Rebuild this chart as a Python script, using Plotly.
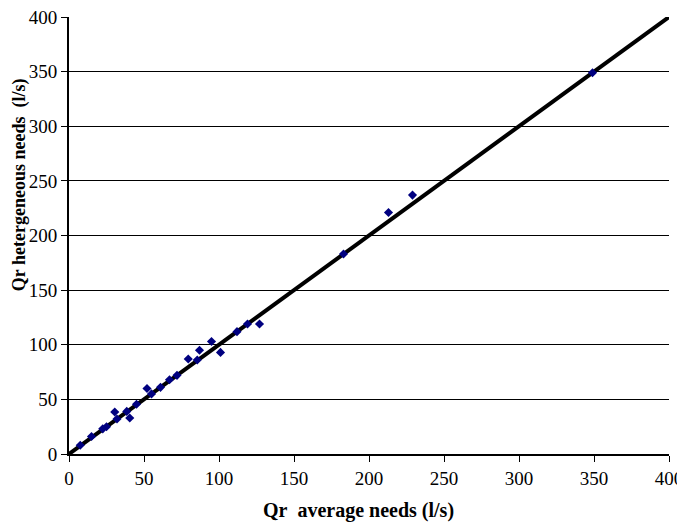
import plotly.graph_objects as go

# measured points (l/s)
avg_needs = [7.5, 15, 22.5, 25, 30.5, 32, 38.5, 40.5, 45, 52, 55, 61, 67, 72,
             79.5, 85.5, 87, 95, 101, 112, 119, 127, 183, 213, 229, 349]
het_needs = [8, 16, 23, 25, 38.5, 32, 39, 33, 45.5, 60, 55, 61, 68, 72,
             87, 86, 95, 103, 93, 112, 119, 119, 183, 221, 237, 349]

line_x = [0, 400]
line_y = [0, 400]

tick_vals = [0, 50, 100, 150, 200, 250, 300, 350, 400]

x_title = "<b>Qr&nbsp; average needs (l/s)</b>"
y_title = "<b>Qr hetergeneous needs&nbsp; (l/s)</b>"

font_family = "Liberation Serif"

fig = go.Figure()

fig.add_trace(go.Scatter(x=line_x, y=line_y, mode="lines",
                         line=dict(color="black", width=4),
                         showlegend=False, hoverinfo="skip", cliponaxis=False))

fig.add_trace(go.Scatter(x=avg_needs, y=het_needs, mode="markers",
                         marker=dict(symbol="diamond", color="#000080", size=7),
                         showlegend=False))

# page body adds ~8px offset, so the figure is a bit smaller than the window
fig.update_layout(
    width=677, height=514,
    margin=dict(l=61, r=16, t=9, b=68),
    plot_bgcolor="white",
    paper_bgcolor="white",
    font=dict(family=font_family, size=19, color="black"),
    xaxis=dict(
        range=[0, 400], tickvals=tick_vals,
        showgrid=False, zeroline=False, automargin=False,
        ticklabeloverflow="allow",
        showline=True, linecolor="black", linewidth=2,
        ticks="outside", ticklen=6, tickcolor="black", tickwidth=1,
    ),
    yaxis=dict(
        range=[0, 400], tickvals=tick_vals,
        showgrid=True, gridcolor="black", gridwidth=1,
        zeroline=False, automargin=False,
        ticklabeloverflow="allow",
        showline=True, linecolor="black", linewidth=2,
        ticks="outside", ticklen=6, tickcolor="black", tickwidth=1,
    ),
)

fig.add_annotation(text=x_title, xref="paper", yref="paper", x=0.483, y=0,
                   yanchor="middle", yshift=-56, showarrow=False,
                   font=dict(size=20))
fig.add_annotation(text=y_title, xref="paper", yref="paper", x=0, y=0.615,
                   xanchor="center", xshift=-50, textangle=-90, showarrow=False,
                   font=dict(size=18))

fig.write_html("out.html")
